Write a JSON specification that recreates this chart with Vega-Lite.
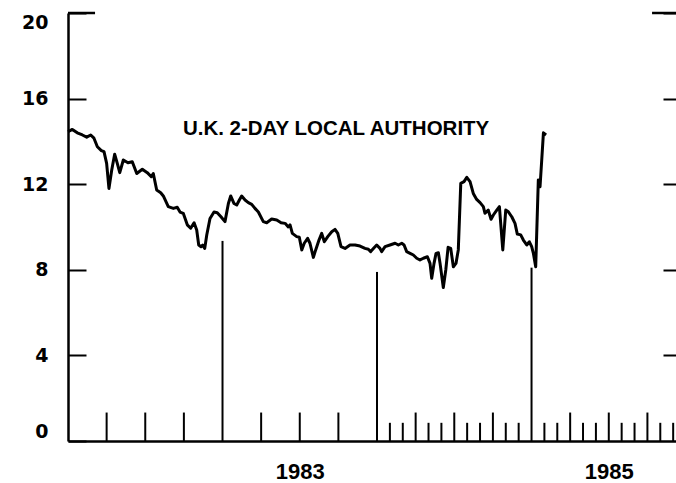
{
  "$schema": "https://vega.github.io/schema/vega-lite/v6.json",
  "width": 608,
  "height": 428,
  "autosize": "none",
  "padding": {"left": 68, "top": 13, "right": 0, "bottom": 42},
  "background": "white",
  "config": {
    "view": {"stroke": null},
    "font": "Liberation Sans",
    "axis": {"grid": false, "domainColor": "black", "tickColor": "black", "labelColor": "black", "title": null}
  },
  "datasets": {
    "series": [
      {"year": 1982.000, "rate": 14.45}, {"year": 1982.028, "rate": 14.56}, {"year": 1982.060, "rate": 14.40},
      {"year": 1982.093, "rate": 14.30}, {"year": 1982.121, "rate": 14.20}, {"year": 1982.147, "rate": 14.30},
      {"year": 1982.168, "rate": 14.15}, {"year": 1982.190, "rate": 13.75}, {"year": 1982.216, "rate": 13.57},
      {"year": 1982.233, "rate": 13.52}, {"year": 1982.250, "rate": 12.97}, {"year": 1982.265, "rate": 11.80},
      {"year": 1982.283, "rate": 12.66}, {"year": 1982.302, "rate": 13.40}, {"year": 1982.319, "rate": 12.97},
      {"year": 1982.335, "rate": 12.54}, {"year": 1982.358, "rate": 13.13}, {"year": 1982.388, "rate": 13.00},
      {"year": 1982.416, "rate": 13.05}, {"year": 1982.445, "rate": 12.50}, {"year": 1982.481, "rate": 12.70},
      {"year": 1982.513, "rate": 12.54}, {"year": 1982.539, "rate": 12.35}, {"year": 1982.552, "rate": 12.50},
      {"year": 1982.574, "rate": 11.73}, {"year": 1982.600, "rate": 11.60}, {"year": 1982.617, "rate": 11.45},
      {"year": 1982.649, "rate": 10.95}, {"year": 1982.682, "rate": 10.87}, {"year": 1982.707, "rate": 10.92},
      {"year": 1982.725, "rate": 10.70}, {"year": 1982.746, "rate": 10.64}, {"year": 1982.772, "rate": 10.10},
      {"year": 1982.794, "rate": 9.94}, {"year": 1982.816, "rate": 10.20}, {"year": 1982.833, "rate": 9.86},
      {"year": 1982.846, "rate": 9.16}, {"year": 1982.861, "rate": 9.08}, {"year": 1982.872, "rate": 9.16},
      {"year": 1982.885, "rate": 9.00}, {"year": 1982.898, "rate": 9.63}, {"year": 1982.919, "rate": 10.40},
      {"year": 1982.945, "rate": 10.70}, {"year": 1982.966, "rate": 10.67}, {"year": 1982.990, "rate": 10.48},
      {"year": 1983.016, "rate": 10.25}, {"year": 1983.038, "rate": 11.10}, {"year": 1983.053, "rate": 11.45},
      {"year": 1983.074, "rate": 11.10}, {"year": 1983.092, "rate": 11.03}, {"year": 1983.109, "rate": 11.26},
      {"year": 1983.124, "rate": 11.45}, {"year": 1983.146, "rate": 11.26}, {"year": 1983.167, "rate": 11.14},
      {"year": 1983.189, "rate": 11.06}, {"year": 1983.210, "rate": 10.87}, {"year": 1983.232, "rate": 10.70},
      {"year": 1983.264, "rate": 10.25}, {"year": 1983.286, "rate": 10.20}, {"year": 1983.318, "rate": 10.37},
      {"year": 1983.351, "rate": 10.33}, {"year": 1983.379, "rate": 10.20}, {"year": 1983.405, "rate": 10.17},
      {"year": 1983.426, "rate": 10.00}, {"year": 1983.437, "rate": 10.10}, {"year": 1983.452, "rate": 9.70},
      {"year": 1983.480, "rate": 9.55}, {"year": 1983.497, "rate": 9.52}, {"year": 1983.513, "rate": 8.93},
      {"year": 1983.529, "rate": 9.24}, {"year": 1983.551, "rate": 9.47}, {"year": 1983.566, "rate": 9.24},
      {"year": 1983.588, "rate": 8.58}, {"year": 1983.603, "rate": 8.93}, {"year": 1983.625, "rate": 9.40},
      {"year": 1983.642, "rate": 9.70}, {"year": 1983.659, "rate": 9.31}, {"year": 1983.681, "rate": 9.55},
      {"year": 1983.707, "rate": 9.78}, {"year": 1983.728, "rate": 9.89}, {"year": 1983.746, "rate": 9.70},
      {"year": 1983.767, "rate": 9.08}, {"year": 1983.793, "rate": 9.00}, {"year": 1983.825, "rate": 9.16},
      {"year": 1983.858, "rate": 9.16}, {"year": 1983.890, "rate": 9.11}, {"year": 1983.922, "rate": 9.00},
      {"year": 1983.944, "rate": 8.96}, {"year": 1983.959, "rate": 8.85}, {"year": 1983.981, "rate": 9.03},
      {"year": 1983.998, "rate": 9.16}, {"year": 1984.019, "rate": 9.00}, {"year": 1984.030, "rate": 8.85},
      {"year": 1984.052, "rate": 9.08}, {"year": 1984.084, "rate": 9.16}, {"year": 1984.117, "rate": 9.24},
      {"year": 1984.138, "rate": 9.16}, {"year": 1984.160, "rate": 9.24}, {"year": 1984.175, "rate": 9.16},
      {"year": 1984.192, "rate": 8.85}, {"year": 1984.214, "rate": 8.77}, {"year": 1984.235, "rate": 8.69},
      {"year": 1984.257, "rate": 8.54}, {"year": 1984.278, "rate": 8.46}, {"year": 1984.300, "rate": 8.54},
      {"year": 1984.326, "rate": 8.61}, {"year": 1984.343, "rate": 8.30}, {"year": 1984.354, "rate": 7.60},
      {"year": 1984.369, "rate": 8.30}, {"year": 1984.382, "rate": 8.77}, {"year": 1984.397, "rate": 8.80},
      {"year": 1984.408, "rate": 8.30}, {"year": 1984.429, "rate": 7.17}, {"year": 1984.445, "rate": 7.99},
      {"year": 1984.460, "rate": 9.05}, {"year": 1984.477, "rate": 9.00}, {"year": 1984.494, "rate": 8.14},
      {"year": 1984.511, "rate": 8.30}, {"year": 1984.526, "rate": 8.93}, {"year": 1984.542, "rate": 12.04},
      {"year": 1984.563, "rate": 12.12}, {"year": 1984.581, "rate": 12.32}, {"year": 1984.602, "rate": 12.12},
      {"year": 1984.623, "rate": 11.57}, {"year": 1984.645, "rate": 11.29}, {"year": 1984.667, "rate": 11.14},
      {"year": 1984.688, "rate": 10.95}, {"year": 1984.699, "rate": 10.64}, {"year": 1984.720, "rate": 10.79},
      {"year": 1984.738, "rate": 10.36}, {"year": 1984.753, "rate": 10.56}, {"year": 1984.775, "rate": 10.79},
      {"year": 1984.792, "rate": 10.95}, {"year": 1984.814, "rate": 8.93}, {"year": 1984.833, "rate": 10.79},
      {"year": 1984.850, "rate": 10.71}, {"year": 1984.872, "rate": 10.48}, {"year": 1984.893, "rate": 10.17},
      {"year": 1984.908, "rate": 9.67}, {"year": 1984.930, "rate": 9.63}, {"year": 1984.947, "rate": 9.39},
      {"year": 1984.969, "rate": 9.16}, {"year": 1984.986, "rate": 9.31}, {"year": 1985.001, "rate": 9.08},
      {"year": 1985.012, "rate": 8.77}, {"year": 1985.027, "rate": 8.14}, {"year": 1985.044, "rate": 12.20},
      {"year": 1985.055, "rate": 11.88}, {"year": 1985.066, "rate": 13.13}, {"year": 1985.077, "rate": 14.40},
      {"year": 1985.094, "rate": 14.30}
    ],
    "ticks": [
      {"year": 1982.25, "kind": "major", "base": 0, "top": 1.33}, {"year": 1982.5, "kind": "major", "base": 0, "top": 1.33}, {"year": 1982.75, "kind": "major", "base": 0, "top": 1.33},
      {"year": 1983.25, "kind": "major", "base": 0, "top": 1.33}, {"year": 1983.5, "kind": "major", "base": 0, "top": 1.33}, {"year": 1983.75, "kind": "major", "base": 0, "top": 1.33},
      {"year": 1984.0833, "kind": "minor", "base": 0, "top": 0.85}, {"year": 1984.1667, "kind": "minor", "base": 0, "top": 0.85}, {"year": 1984.25, "kind": "major", "base": 0, "top": 1.33},
      {"year": 1984.3333, "kind": "minor", "base": 0, "top": 0.85}, {"year": 1984.4167, "kind": "minor", "base": 0, "top": 0.85}, {"year": 1984.5, "kind": "major", "base": 0, "top": 1.33},
      {"year": 1984.5833, "kind": "minor", "base": 0, "top": 0.85}, {"year": 1984.6667, "kind": "minor", "base": 0, "top": 0.85}, {"year": 1984.75, "kind": "major", "base": 0, "top": 1.33},
      {"year": 1984.8333, "kind": "minor", "base": 0, "top": 0.85}, {"year": 1984.9167, "kind": "minor", "base": 0, "top": 0.85},
      {"year": 1985.0833, "kind": "minor", "base": 0, "top": 0.85}, {"year": 1985.1667, "kind": "minor", "base": 0, "top": 0.85}, {"year": 1985.25, "kind": "major", "base": 0, "top": 1.33},
      {"year": 1985.3333, "kind": "minor", "base": 0, "top": 0.85}, {"year": 1985.4167, "kind": "minor", "base": 0, "top": 0.85}, {"year": 1985.5, "kind": "major", "base": 0, "top": 1.33},
      {"year": 1985.5833, "kind": "minor", "base": 0, "top": 0.85}, {"year": 1985.6667, "kind": "minor", "base": 0, "top": 0.85}, {"year": 1985.75, "kind": "major", "base": 0, "top": 1.33},
      {"year": 1985.8333, "kind": "minor", "base": 0, "top": 0.85}, {"year": 1985.9167, "kind": "minor", "base": 0, "top": 0.85},
      {"year": 1983, "kind": "year", "base": 0, "top": 9.35}, {"year": 1984, "kind": "year", "base": 0, "top": 7.9}, {"year": 1985, "kind": "year", "base": 0, "top": 8.1}
    ],
    "caps": [
      {"start": 1982, "end": 1982.175, "level": 20},
      {"start": 1985.78, "end": 1985.935, "level": 20}
    ],
    "label": [
      {"year": 1983.735, "rate": 14.3, "text": "U.K. 2-DAY LOCAL AUTHORITY"}
    ]
  },
  "layer": [
    {
      "data": {"name": "series"},
      "mark": {"type": "line", "color": "black", "strokeWidth": 3, "strokeJoin": "round"},
      "encoding": {
        "x": {
          "field": "year", "type": "quantitative",
          "scale": {"domain": [1982, 1985.935], "nice": false, "zero": false},
          "axis": {
            "orient": "bottom", "values": [1983.5, 1985.5], "labelExpr": "floor(datum.value)",
            "ticks": false, "tickSize": 0, "labelPadding": 20, "labelBaseline": "top",
            "labelFont": "Liberation Sans", "labelFontWeight": "bold", "labelFontSize": 22,
            "domainWidth": 2.5, "labelFlush": false
          }
        },
        "y": {
          "field": "rate", "type": "quantitative",
          "scale": {"domain": [0, 20], "nice": false, "zero": true},
          "axis": {
            "orient": "left", "values": [0, 4, 8, 12, 16, 20], "tickSize": -18, "tickWidth": 2,
            "domainWidth": 2.5, "labelPadding": 38, "labelFlush": true, "labelFlushOffset": 0,
            "labelFont": "DejaVu Sans", "labelFontWeight": "bold", "labelFontSize": 19
          }
        }
      }
    },
    {
      "data": {"name": "ticks"},
      "mark": {"type": "rule", "color": "black", "strokeWidth": 2},
      "encoding": {
        "x": {"field": "year", "type": "quantitative", "axis": null},
        "y": {
          "field": "top", "type": "quantitative",
          "axis": {"orient": "right", "values": [4, 8, 12, 16, 20], "tickSize": -13, "tickWidth": 2, "labels": false, "domain": false}
        },
        "y2": {"field": "base"}
      }
    },
    {
      "data": {"name": "caps"},
      "mark": {"type": "rule", "color": "black", "strokeWidth": 2.5},
      "encoding": {
        "x": {"field": "start", "type": "quantitative", "axis": null},
        "x2": {"field": "end"},
        "y": {"field": "level", "type": "quantitative", "axis": null}
      }
    },
    {
      "data": {"name": "label"},
      "mark": {"type": "text", "font": "Liberation Sans", "fontWeight": "bold", "fontSize": 20.5, "align": "center", "baseline": "alphabetic", "color": "black"},
      "encoding": {
        "x": {"field": "year", "type": "quantitative", "axis": null},
        "y": {"field": "rate", "type": "quantitative", "axis": null},
        "text": {"field": "text"}
      }
    }
  ],
  "resolve": {"axis": {"x": "independent", "y": "independent"}}
}
